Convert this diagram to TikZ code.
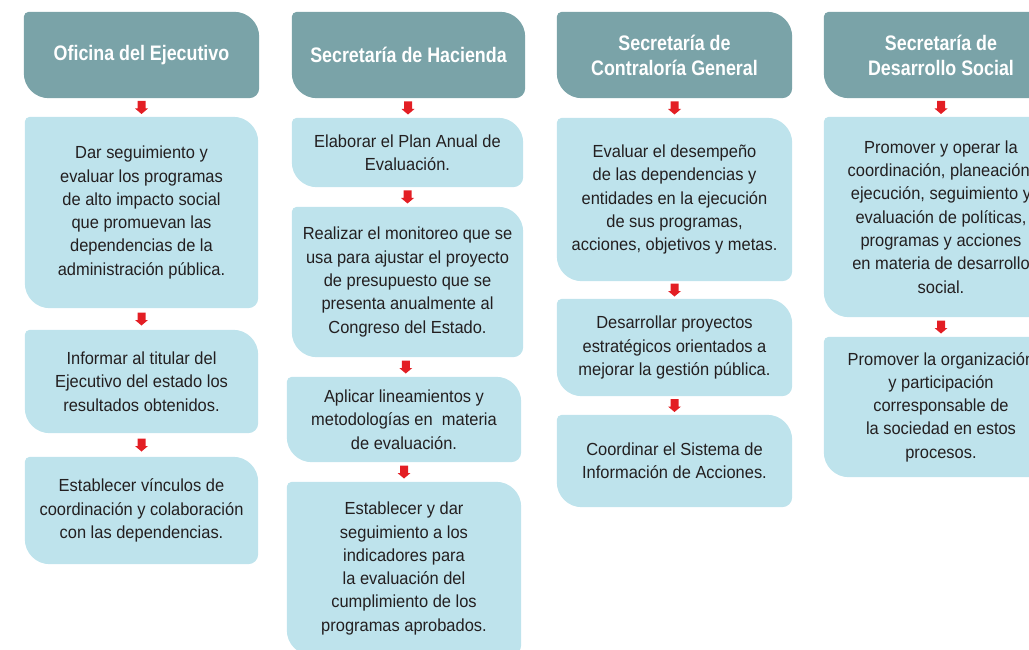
\documentclass[tikz,border=0pt]{standalone}
\usepackage{fontspec}
\setmainfont{Liberation Sans}[FakeStretch=0.94]
\newfontfamily\hdfont{Liberation Sans}[FakeStretch=0.85]
\usetikzlibrary{calc,backgrounds}
\definecolor{hdcol}{RGB}{122,163,168}
\definecolor{bxcol}{RGB}{190,227,236}
\definecolor{txcol}{RGB}{35,31,32}
\definecolor{arcol}{RGB}{227,30,36}
\tikzset{
  hd/.style={inner sep=0pt, minimum width=234pt, minimum height=86pt, align=center, text=white,
    font=\hdfont\bfseries\fontsize{21}{25}\selectfont},
  bx/.style={inner sep=0pt, align=center, text=txcol,
    font=\fontsize{17.5}{23.3}\selectfont},
  arr/.style={fill=arcol},
}
\newcommand\shp[2]{\fill[#2] let \p1=(#1.north west), \p2=(#1.south east) in
  (\x1+5pt,\y1) -- (\x2-25pt,\y1) arc[start angle=90,end angle=0,radius=25pt]
  -- (\x2,\y2+10pt) arc[start angle=0,end angle=-90,radius=10pt]
  -- (\x1+25pt,\y2) arc[start angle=270,end angle=180,radius=25pt]
  -- (\x1,\y1-5pt) arc[start angle=180,end angle=90,radius=5pt] -- cycle;}
\newcommand\blk[2]{\fill[arr] let \p1=($(#1.south)!0.5!(#2.north)$) in
  (\x1-4pt,\y1+6.5pt) -- (\x1+4pt,\y1+6.5pt) -- (\x1+4pt,\y1-1pt) -- (\x1+6.5pt,\y1-1pt)
  -- (\x1,\y1-6.5pt) -- (\x1-6.5pt,\y1-1pt) -- (\x1-4pt,\y1-1pt) -- cycle;}
\begin{document}
\begin{tikzpicture}[x=1pt,y=1pt]
\useasboundingbox (0,0) rectangle (1029,-650);
% column 1
\node[hd, minimum width=235pt] (h1) at (141.5,-55) {Oficina del Ejecutivo};
\node[bx, minimum width=233pt, minimum height=191pt] (c1b1) at (141.5,-212.5)
  {Dar seguimiento y\\evaluar los programas\\de alto impacto social\\que promuevan las\\dependencias de la\\administración pública.};
\node[bx, minimum width=233pt, minimum height=103pt] (c1b2) at (141.5,-381.5)
  {Informar al titular del\\Ejecutivo del estado los\\resultados obtenidos.};
\node[bx, minimum width=233pt, minimum height=107pt] (c1b3) at (141.5,-510.5)
  {Establecer vínculos de\\coordinación y colaboración\\con las dependencias.};
% column 2
\node[hd, minimum width=233pt] (h2) at (408.5,-55) {Secretaría de Hacienda};
\node[bx, minimum width=231pt, minimum height=69pt] (c2b1) at (407.5,-152.5)
  {Elaborar el Plan Anual de\\Evaluación.};
\node[bx, minimum width=231pt, minimum height=150pt] (c2b2) at (407.5,-282)
  {Realizar el monitoreo que se\\usa para ajustar el proyecto\\de presupuesto que se\\presenta anualmente al\\Congreso del Estado.};
\node[bx, minimum width=234pt, minimum height=85pt] (c2b3) at (404,-419.5)
  {Aplicar lineamientos y\\metodologías en\ \ materia\\de evaluación.};
\node[bx, minimum width=234pt, minimum height=173pt] (c2b4) at (404,-568.5)
  {Establecer y dar\\seguimiento a los\\indicadores para\\la evaluación del\\cumplimiento de los\\programas aprobados.};
% column 3
\node[hd, minimum width=235pt] (h3) at (674.5,-55) {Secretaría de\\Contraloría General};
\node[bx, minimum width=235pt, minimum height=163pt] (c3b1) at (674.5,-199.5)
  {Evaluar el desempeño\\de las dependencias y\\entidades en la ejecución\\de sus programas,\\acciones, objetivos y metas.};
\node[bx, minimum width=235pt, minimum height=97pt] (c3b2) at (674.5,-347.5)
  {Desarrollar proyectos\\estratégicos orientados a\\mejorar la gestión pública.};
\node[bx, minimum width=235pt, minimum height=92pt] (c3b3) at (674.5,-461)
  {Coordinar el Sistema de\\Información de Acciones.};
% column 4
\node[hd, minimum width=234pt] (h4) at (941,-55) {Secretaría de\\Desarrollo Social};
\node[bx, minimum width=234pt, minimum height=200pt] (c4b1) at (941,-217)
  {Promover y operar la\\coordinación, planeación,\\ejecución, seguimiento y\\evaluación de políticas,\\programas y acciones\\en materia de desarrollo\\social.};
\node[bx, minimum width=234pt, minimum height=140pt] (c4b2) at (941,-407)
  {Promover la organización\\y participación\\corresponsable de\\la sociedad en estos\\procesos.};
% shapes
\begin{pgfonlayer}{background}
\foreach \nm in {h1,h2,h3,h4}{\shp{\nm}{hdcol}}
\foreach \nm in {c1b1,c1b2,c1b3,c2b1,c2b2,c2b3,c2b4,c3b1,c3b2,c3b3,c4b1,c4b2}{\shp{\nm}{bxcol}}
\end{pgfonlayer}
% arrows
\blk{h1}{c1b1}\blk{c1b1}{c1b2}\blk{c1b2}{c1b3}
\blk{h2}{c2b1}\blk{c2b1}{c2b2}\blk{c2b2}{c2b3}\blk{c2b3}{c2b4}
\blk{h3}{c3b1}\blk{c3b1}{c3b2}\blk{c3b2}{c3b3}
\blk{h4}{c4b1}\blk{c4b1}{c4b2}
\end{tikzpicture}
\end{document}
